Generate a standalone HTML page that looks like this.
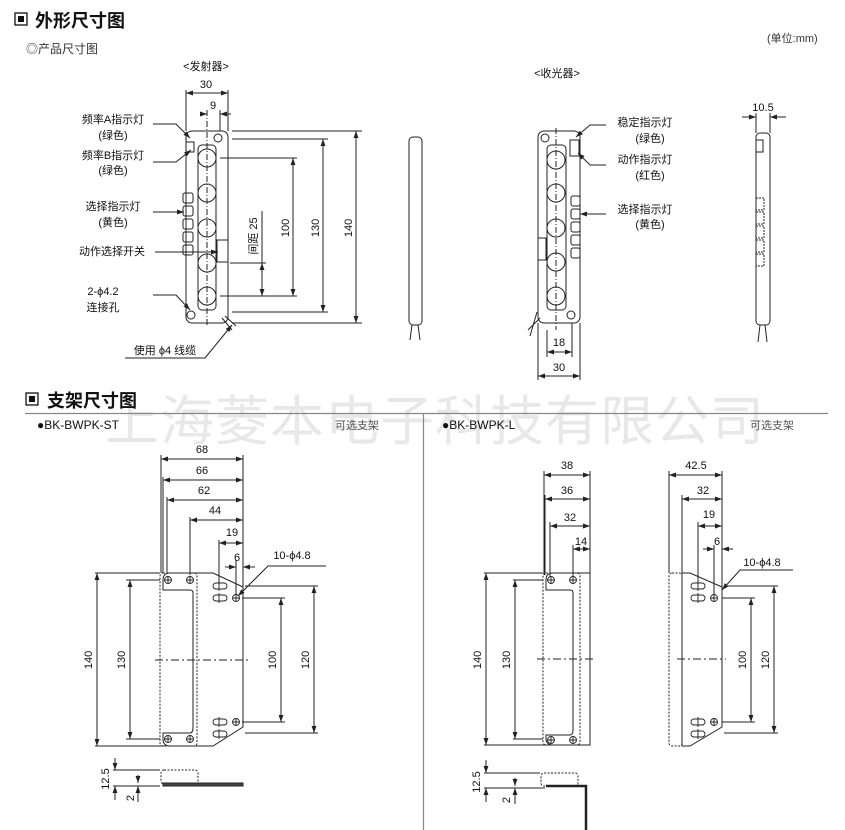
<!DOCTYPE html>
<html><head><meta charset="utf-8"><style>
html,body{margin:0;padding:0;background:#fff;}
svg{display:block;font-family:"Liberation Sans","Noto Sans CJK SC",sans-serif;}
</style></head><body>
<svg width="845" height="830" viewBox="0 0 845 830" xmlns="http://www.w3.org/2000/svg">
<defs>
<marker id="a" viewBox="0 0 10 10" refX="10" refY="5" markerWidth="7" markerHeight="7" orient="auto-start-reverse"><path d="M0,1.5 L10,5 L0,8.5 z" fill="#222"/></marker>
</defs>
<!-- watermark -->
<text x="105" y="440" font-size="54" fill="#e8e8e8" font-family="'Noto Sans CJK SC',sans-serif" letter-spacing="1">上海菱本电子科技有限公司</text>

<g fill="#111">
<rect x="15" y="13" width="12" height="12" fill="none" stroke="#111" stroke-width="1.3"/><rect x="18" y="16" width="6" height="6"/>
<text x="35" y="27" font-size="18" font-weight="bold">外形尺寸图</text>
<text x="26" y="53" font-size="12" fill="#333">◎产品尺寸图</text>
<text x="767" y="42" font-size="11" fill="#333">(单位:mm)</text>
<text x="206" y="70" font-size="11" text-anchor="middle">&lt;发射器&gt;</text>
<text x="557" y="77" font-size="11" text-anchor="middle">&lt;收光器&gt;</text>
</g>

<g stroke="#222" stroke-width="1" fill="none">
<!-- emitter -->
<rect x="186" y="131" width="42" height="192" rx="6"/>
<rect x="198" y="145" width="18" height="165" rx="4"/>
<circle cx="207" cy="158" r="9"/><circle cx="207" cy="193" r="9"/><circle cx="207" cy="228" r="9"/><circle cx="207" cy="263" r="9"/><circle cx="207" cy="296" r="9"/>
<circle cx="218" cy="138" r="4"/><circle cx="191" cy="315" r="4"/>
<line x1="207" y1="110" x2="207" y2="325" stroke-dasharray="6,2,1,2"/>
<rect x="183" y="193" width="10" height="10" rx="2"/><rect x="183" y="206" width="10" height="10" rx="2"/><rect x="183" y="219" width="10" height="10" rx="2"/><rect x="183" y="232" width="10" height="10" rx="2"/><rect x="183" y="245" width="10" height="10" rx="2"/>
<rect x="186" y="142" width="8" height="10"/>
<rect x="217" y="240" width="11" height="22"/>
<path d="M222,318 L232,330 M225,316 L236,326"/>
<!-- emitter dims -->
<line x1="186" y1="90" x2="186" y2="131"/><line x1="228" y1="90" x2="228" y2="131"/>
<line x1="186" y1="93" x2="228" y2="93" marker-start="url(#a)" marker-end="url(#a)"/>
<line x1="220" y1="110" x2="220" y2="131"/>
<line x1="200" y1="114" x2="207" y2="114" marker-end="url(#a)"/><line x1="231" y1="114" x2="220" y2="114" marker-end="url(#a)"/>
<line x1="232" y1="131" x2="362" y2="131"/><line x1="232" y1="323" x2="362" y2="323"/>
<line x1="356" y1="131" x2="356" y2="323" marker-start="url(#a)" marker-end="url(#a)"/>
<line x1="232" y1="139" x2="328" y2="139"/><line x1="232" y1="312" x2="328" y2="312"/>
<line x1="323" y1="139" x2="323" y2="312" marker-start="url(#a)" marker-end="url(#a)"/>
<line x1="220" y1="158" x2="297" y2="158"/><line x1="220" y1="296" x2="297" y2="296"/>
<line x1="293" y1="158" x2="293" y2="296" marker-start="url(#a)" marker-end="url(#a)"/>
<line x1="230" y1="263" x2="266" y2="263"/>
<line x1="262" y1="211" x2="262" y2="263"/>
<line x1="262" y1="263" x2="262" y2="296" marker-start="url(#a)" marker-end="url(#a)"/>
<!-- leaders -->
<path d="M153,124 L176,124 L190,138" marker-end="url(#a)"/>
<path d="M153,162 L176,162 L191,150" marker-end="url(#a)"/>
<line x1="153" y1="212" x2="184" y2="212" marker-end="url(#a)"/>
<line x1="155" y1="252" x2="218" y2="252" marker-end="url(#a)"/>
<path d="M153,295 L176,295 L190,310" marker-end="url(#a)"/>
<path d="M125,358 L205,358 L232,325" marker-end="url(#a)"/>
<!-- emitter side -->
<rect x="409" y="137" width="13" height="188" rx="4"/>
<path d="M412,325 L410,340 M418,325 L420,340"/>
<!-- receiver -->
<rect x="538" y="131" width="42" height="192" rx="6"/>
<rect x="547" y="145" width="19" height="165" rx="4"/>
<circle cx="556" cy="160" r="9"/><circle cx="556" cy="193" r="9"/><circle cx="556" cy="228" r="9"/><circle cx="556" cy="262" r="9"/><circle cx="556" cy="296" r="9"/>
<circle cx="545" cy="138" r="4"/><circle cx="571" cy="315" r="4"/>
<line x1="556" y1="128" x2="556" y2="330" stroke-dasharray="6,2,1,2"/>
<rect x="571" y="196" width="9" height="10" rx="2"/><rect x="571" y="209" width="9" height="10" rx="2"/><rect x="571" y="222" width="9" height="10" rx="2"/><rect x="571" y="235" width="9" height="10" rx="2"/><rect x="571" y="248" width="9" height="10" rx="2"/>
<rect x="570" y="140" width="9" height="16"/>
<rect x="538" y="238" width="8" height="22"/>
<path d="M540,318 L528,330 M537,312 L530,336"/>
<line x1="538" y1="323" x2="538" y2="380"/><line x1="580" y1="323" x2="580" y2="380"/><line x1="547" y1="330" x2="547" y2="357"/><line x1="572" y1="323" x2="572" y2="357"/>
<line x1="547" y1="352" x2="572" y2="352" marker-start="url(#a)" marker-end="url(#a)"/>
<line x1="538" y1="376" x2="580" y2="376" marker-start="url(#a)" marker-end="url(#a)"/>
<path d="M606,125 L590,125 L576,137" marker-end="url(#a)"/>
<path d="M606,165 L590,165 L578,153" marker-end="url(#a)"/>
<line x1="606" y1="214" x2="580" y2="214" marker-end="url(#a)"/>
<!-- receiver side -->
<rect x="756" y="133" width="14" height="192" rx="4"/>
<line x1="756" y1="113" x2="756" y2="133"/><line x1="770" y1="113" x2="770" y2="133"/>
<line x1="742" y1="117" x2="756" y2="117" marker-end="url(#a)"/><line x1="786" y1="117" x2="770" y2="117" marker-end="url(#a)"/>
<rect x="756" y="140" width="7" height="12"/>
<g stroke-dasharray="2,1"><rect x="756" y="198" width="8" height="12"/><rect x="756" y="212" width="8" height="12"/><rect x="756" y="226" width="8" height="12"/><rect x="756" y="240" width="8" height="12"/><rect x="756" y="254" width="8" height="12"/></g>
<path d="M760,325 L758,342 M765,325 L767,342"/>
</g>
<g fill="#111" font-size="11" text-anchor="middle">
<text x="206" y="88">30</text><text x="213" y="109">9</text>
<text x="113" y="123">频率A指示灯</text><text x="113" y="139">(绿色)</text>
<text x="113" y="159">频率B指示灯</text><text x="113" y="174">(绿色)</text>
<text x="113" y="210">选择指示灯</text><text x="113" y="226">(黄色)</text>
<text x="112" y="255">动作选择开关</text>
<text x="103" y="295">2-ϕ4.2</text><text x="103" y="311">连接孔</text>
<text x="165" y="354">使用 ϕ4 线缆</text>
<text transform="translate(352,228) rotate(-90)">140</text>
<text transform="translate(319,228) rotate(-90)">130</text>
<text transform="translate(289,228) rotate(-90)">100</text>
<text transform="translate(257,236) rotate(-90)">间距 25</text>
<text x="645" y="126">稳定指示灯</text><text x="650" y="142">(绿色)</text>
<text x="645" y="163">动作指示灯</text><text x="650" y="179">(红色)</text>
<text x="645" y="213">选择指示灯</text><text x="650" y="228">(黄色)</text>
<text x="559" y="346">18</text><text x="559" y="371">30</text>
<text x="763" y="111">10.5</text>
</g>

<!-- bracket section -->
<rect x="26" y="393" width="12" height="12" fill="none" stroke="#111" stroke-width="1.3"/><rect x="29" y="396" width="6" height="6" fill="#111"/>
<text x="47" y="407" font-size="18" font-weight="bold" fill="#111">支架尺寸图</text>
<line x1="25" y1="413.5" x2="828" y2="413.5" stroke="#888" stroke-width="1.2"/>
<line x1="423.5" y1="414" x2="423.5" y2="830" stroke="#888" stroke-width="1.2"/>
<g fill="#111" font-size="12">
<text x="37" y="429">●BK-BWPK-ST</text><text x="442" y="429" font-size="12">●BK-BWPK-L</text>
<text x="335" y="429" font-size="11" fill="#555">可选支架</text><text x="750" y="429" font-size="11" fill="#555">可选支架</text>
</g>

<g stroke="#222" stroke-width="1" fill="none">
<!-- ST bracket -->
<path d="M170,573 L213,573 L243,587 L243,727 L213,746 L170,746 Q163,746 163,739 L163,733 L190,733 Q193,733 193,727 L193,593 Q193,590 190,590 L163,590 L163,580 Q163,573 170,573 Z"/>
<rect x="160" y="573" width="37" height="173" rx="3" stroke-dasharray="2,1.5"/>
<line x1="155" y1="660" x2="248" y2="660" stroke-dasharray="8,3,2,3"/>
<g stroke-width="0.9"><circle cx="168" cy="580" r="3.5"/><circle cx="190" cy="580" r="3.5"/><circle cx="168" cy="739" r="3.5"/><circle cx="190" cy="739" r="3.5"/>
<circle cx="236" cy="598" r="3.5"/><circle cx="236" cy="722" r="3.5"/>
<rect x="213" y="583" width="14" height="6" rx="3"/><rect x="213" y="595" width="14" height="6" rx="3"/><rect x="213" y="719" width="14" height="6" rx="3"/><rect x="213" y="731" width="14" height="6" rx="3"/>
<path d="M165,580h6M168,577v6M187,580h6M190,577v6M165,739h6M168,736v6M187,739h6M190,736v6M233,598h6M236,595v6M233,722h6M236,719v6M219,581v10M219,593v10M219,717v10M219,729v10"/></g>
<line x1="161" y1="455" x2="161" y2="573"/><line x1="243" y1="455" x2="243" y2="587"/>
<line x1="163" y1="477" x2="163" y2="573"/><line x1="167" y1="497" x2="167" y2="573"/><line x1="190" y1="517" x2="190" y2="575"/><line x1="219" y1="540" x2="219" y2="583"/><line x1="236" y1="560" x2="236" y2="595"/>
<line x1="161" y1="459" x2="243" y2="459" marker-start="url(#a)" marker-end="url(#a)"/>
<line x1="163" y1="480" x2="243" y2="480" marker-start="url(#a)" marker-end="url(#a)"/>
<line x1="167" y1="500" x2="243" y2="500" marker-start="url(#a)" marker-end="url(#a)"/>
<line x1="190" y1="520" x2="243" y2="520" marker-start="url(#a)" marker-end="url(#a)"/>
<line x1="219" y1="543" x2="243" y2="543" marker-start="url(#a)" marker-end="url(#a)"/>
<line x1="225" y1="567" x2="236" y2="567" marker-end="url(#a)"/><line x1="255" y1="567" x2="243" y2="567" marker-end="url(#a)"/>
<path d="M326,566 L268,566 L238,596" marker-end="url(#a)"/>
<line x1="95" y1="573" x2="160" y2="573"/><line x1="95" y1="746" x2="165" y2="746"/>
<line x1="97" y1="573" x2="97" y2="746" marker-start="url(#a)" marker-end="url(#a)"/>
<line x1="126" y1="580" x2="160" y2="580"/><line x1="126" y1="739" x2="160" y2="739"/>
<line x1="130" y1="580" x2="130" y2="739" marker-start="url(#a)" marker-end="url(#a)"/>
<line x1="242" y1="598" x2="285" y2="598"/><line x1="242" y1="722" x2="285" y2="722"/>
<line x1="281" y1="598" x2="281" y2="722" marker-start="url(#a)" marker-end="url(#a)"/>
<line x1="245" y1="586" x2="318" y2="586"/><line x1="245" y1="733" x2="318" y2="733"/>
<line x1="314" y1="586" x2="314" y2="733" marker-start="url(#a)" marker-end="url(#a)"/>
<!-- ST side -->
<rect x="161" y="770" width="37" height="14" rx="3" stroke-dasharray="2,1.5"/>
<rect x="163" y="783" width="80" height="3" fill="#444"/>
<line x1="113" y1="770" x2="160" y2="770"/><line x1="113" y1="786" x2="160" y2="786"/>
<line x1="115" y1="758" x2="115" y2="770" marker-end="url(#a)"/><line x1="115" y1="800" x2="115" y2="786" marker-end="url(#a)"/>
<line x1="138" y1="775" x2="138" y2="783" marker-end="url(#a)"/><line x1="138" y1="802" x2="138" y2="786" marker-end="url(#a)"/>

<!-- L bracket left -->
<path d="M553,573 L590,573 L590,745 L553,745 Q546,745 546,738 L546,735 L570,735 Q573,735 573,730 L573,593 Q573,590 570,590 L546,590 L546,580 Q546,573 553,573 Z"/>
<rect x="543" y="573" width="37" height="172" rx="3" stroke-dasharray="2,1.5"/>
<line x1="537" y1="659" x2="595" y2="659" stroke-dasharray="8,3,2,3"/>
<g stroke-width="0.9"><circle cx="551" cy="580" r="3.5"/><circle cx="573" cy="580" r="3.5"/><circle cx="551" cy="740" r="3.5"/><circle cx="573" cy="740" r="3.5"/>
<path d="M548,580h6M551,577v6M570,580h6M573,577v6M548,740h6M551,737v6M570,740h6M573,737v6"/></g>
<line x1="544" y1="471" x2="544" y2="575"/><line x1="590" y1="471" x2="590" y2="573"/>
<line x1="545" y1="495" x2="545" y2="575"/><line x1="550" y1="522" x2="550" y2="577"/><line x1="573" y1="545" x2="573" y2="577"/>
<line x1="544" y1="475" x2="590" y2="475" marker-start="url(#a)" marker-end="url(#a)"/>
<line x1="545" y1="499" x2="590" y2="499" marker-start="url(#a)" marker-end="url(#a)"/>
<line x1="550" y1="526" x2="590" y2="526" marker-start="url(#a)" marker-end="url(#a)"/>
<line x1="573" y1="549" x2="590" y2="549" marker-start="url(#a)" marker-end="url(#a)"/>
<line x1="484" y1="573" x2="543" y2="573"/><line x1="484" y1="745" x2="550" y2="745"/>
<line x1="486" y1="573" x2="486" y2="745" marker-start="url(#a)" marker-end="url(#a)"/>
<line x1="513" y1="580" x2="543" y2="580"/><line x1="513" y1="739" x2="543" y2="739"/>
<line x1="515" y1="580" x2="515" y2="739" marker-start="url(#a)" marker-end="url(#a)"/>
<!-- L bracket right -->
<path d="M682,573 L690,573 L722,587 L722,727 L690,746 L682,746 Z"/>
<rect x="669" y="573" width="13" height="173" rx="3" stroke-dasharray="2,1.5"/>
<line x1="677" y1="659" x2="726" y2="659" stroke-dasharray="8,3,2,3"/>
<g stroke-width="0.9"><circle cx="714" cy="598" r="3.5"/><circle cx="714" cy="722" r="3.5"/>
<rect x="691" y="583" width="14" height="6" rx="3"/><rect x="691" y="595" width="14" height="6" rx="3"/><rect x="691" y="719" width="14" height="6" rx="3"/><rect x="691" y="731" width="14" height="6" rx="3"/>
<path d="M711,598h6M714,595v6M711,722h6M714,719v6M698,581v10M698,593v10M698,717v10M698,729v10"/></g>
<line x1="669" y1="471" x2="669" y2="573"/><line x1="722" y1="471" x2="722" y2="587"/>
<line x1="682" y1="495" x2="682" y2="573"/><line x1="698" y1="522" x2="698" y2="583"/><line x1="714" y1="545" x2="714" y2="595"/>
<line x1="669" y1="475" x2="722" y2="475" marker-start="url(#a)" marker-end="url(#a)"/>
<line x1="682" y1="499" x2="722" y2="499" marker-start="url(#a)" marker-end="url(#a)"/>
<line x1="698" y1="526" x2="722" y2="526" marker-start="url(#a)" marker-end="url(#a)"/>
<line x1="703" y1="549" x2="714" y2="549" marker-end="url(#a)"/><line x1="733" y1="549" x2="722" y2="549" marker-end="url(#a)"/>
<path d="M793,570 L740,570 L722,590" marker-end="url(#a)"/>
<line x1="722" y1="598" x2="755" y2="598"/><line x1="722" y1="722" x2="755" y2="722"/>
<line x1="751" y1="598" x2="751" y2="722" marker-start="url(#a)" marker-end="url(#a)"/>
<line x1="724" y1="586" x2="778" y2="586"/><line x1="724" y1="733" x2="778" y2="733"/>
<line x1="774" y1="586" x2="774" y2="733" marker-start="url(#a)" marker-end="url(#a)"/>
<!-- L side -->
<rect x="541" y="773" width="37" height="13" rx="3" stroke-dasharray="2,1.5"/>
<path d="M546,786 L586,786 L586,830" stroke-width="2.5"/>
<line x1="484" y1="773" x2="540" y2="773"/><line x1="484" y1="788" x2="545" y2="788"/>
<line x1="486" y1="760" x2="486" y2="773" marker-end="url(#a)"/><line x1="486" y1="802" x2="486" y2="788" marker-end="url(#a)"/>
<line x1="515" y1="778" x2="515" y2="786" marker-end="url(#a)"/><line x1="515" y1="804" x2="515" y2="788" marker-end="url(#a)"/>
</g>
<g fill="#111" font-size="11" text-anchor="middle">
<text x="202" y="453">68</text><text x="202" y="474">66</text><text x="204" y="494">62</text><text x="215" y="514">44</text><text x="232" y="536">19</text><text x="237" y="561">6</text>
<text x="292" y="559">10-ϕ4.8</text>
<text transform="translate(92,660) rotate(-90)">140</text>
<text transform="translate(125,660) rotate(-90)">130</text>
<text transform="translate(276,660) rotate(-90)">100</text>
<text transform="translate(309,660) rotate(-90)">120</text>
<text transform="translate(109,779) rotate(-90)">12.5</text>
<text transform="translate(134,798) rotate(-90)">2</text>
<text x="567" y="469">38</text><text x="567" y="494">36</text><text x="570" y="521">32</text><text x="581" y="545">14</text>
<text x="696" y="469">42.5</text><text x="703" y="494">32</text><text x="709" y="518">19</text><text x="717" y="545">6</text>
<text x="762" y="566">10-ϕ4.8</text>
<text transform="translate(481,660) rotate(-90)">140</text>
<text transform="translate(510,660) rotate(-90)">130</text>
<text transform="translate(746,660) rotate(-90)">100</text>
<text transform="translate(769,660) rotate(-90)">120</text>
<text transform="translate(480,782) rotate(-90)">12.5</text>
<text transform="translate(510,800) rotate(-90)">2</text>
</g>
</svg>
</body></html>
